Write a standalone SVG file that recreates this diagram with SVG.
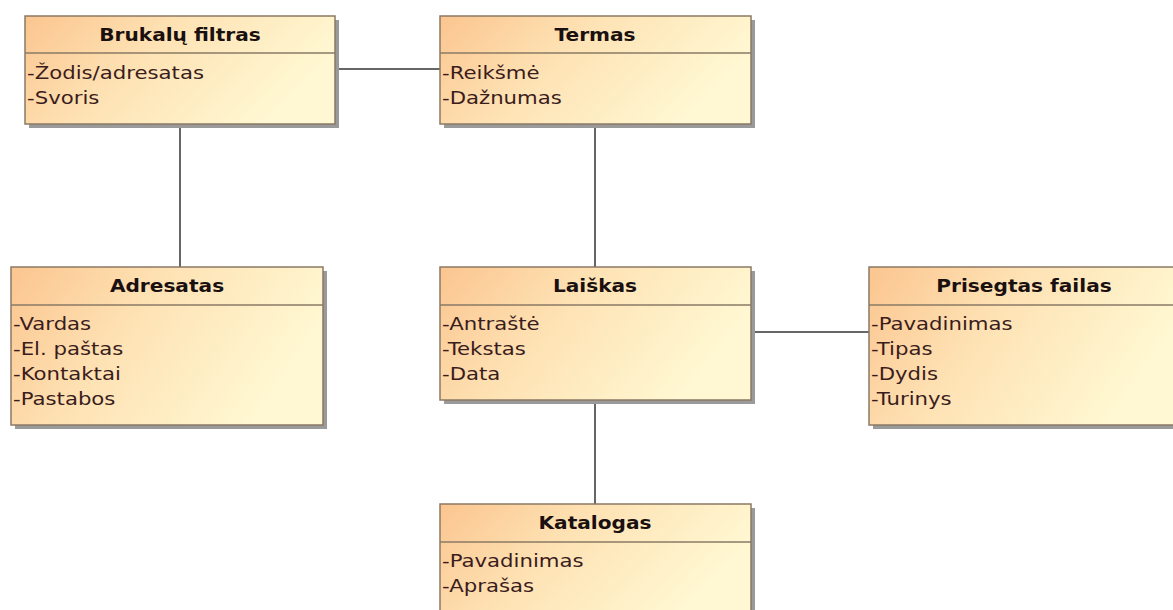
<svg xmlns="http://www.w3.org/2000/svg" width="1173" height="610" viewBox="0 0 1173 610">
  <defs>
    <linearGradient id="fill" x1="0" y1="0" x2="1" y2="0.35">
      <stop offset="0" stop-color="#fbc58f"/>
      <stop offset="0.45" stop-color="#fee2b4"/>
      <stop offset="1" stop-color="#fff8d2"/>
    </linearGradient>
  </defs>
  <style>
    .shadow { fill: #9a9a9a; }
    .box { fill: url(#fill); stroke: #8a7a66; stroke-width: 1.5; }
    .sep { stroke: #8a7a66; stroke-width: 1.5; }
    .title { font-family: "DejaVu Sans", sans-serif; font-weight: bold; font-size: 17.5px; fill: #1a1010; text-anchor: middle; }
    .attr { font-family: "DejaVu Sans", sans-serif; font-size: 18px; fill: #3a1c1c; }
    .conn line { stroke: #333333; stroke-width: 1.5; }
  </style>
  <rect width="1173" height="610" fill="#ffffff"/>

  <!-- associations -->
  <g id="connectors" class="conn">
    <line x1="335" y1="69" x2="440" y2="69"/>
    <line x1="180" y1="124" x2="180" y2="267"/>
    <line x1="595" y1="124" x2="595" y2="267"/>
    <line x1="751" y1="332" x2="869" y2="332"/>
    <line x1="595" y1="400" x2="595" y2="504"/>
  </g>

  <!-- class boxes; the text groups are widened horizontally -->
  <g id="brukalu-filtras">
    <rect class="shadow" x="29" y="20" width="310" height="108"/>
    <rect class="box" x="25" y="16" width="310" height="108"/>
    <line class="sep" x1="25" y1="53" x2="335" y2="53"/>
    <text class="title" transform="translate(180,41) scale(1.15,1)">Brukalų filtras</text>
    <g transform="translate(27,0) scale(1.18,1)">
      <text class="attr" y="79">-Žodis/adresatas</text>
      <text class="attr" y="104">-Svoris</text>
    </g>
  </g>

  <g id="termas">
    <rect class="shadow" x="444" y="20" width="311" height="108"/>
    <rect class="box" x="440" y="16" width="311" height="108"/>
    <line class="sep" x1="440" y1="53" x2="751" y2="53"/>
    <text class="title" transform="translate(595,41) scale(1.15,1)">Termas</text>
    <g transform="translate(442,0) scale(1.18,1)">
      <text class="attr" y="79">-Reikšmė</text>
      <text class="attr" y="104">-Dažnumas</text>
    </g>
  </g>

  <g id="adresatas">
    <rect class="shadow" x="15" y="271" width="312" height="158"/>
    <rect class="box" x="11" y="267" width="312" height="158"/>
    <line class="sep" x1="11" y1="305" x2="323" y2="305"/>
    <text class="title" transform="translate(167,292) scale(1.15,1)">Adresatas</text>
    <g transform="translate(13,0) scale(1.18,1)">
      <text class="attr" y="330">-Vardas</text>
      <text class="attr" y="355">-El. paštas</text>
      <text class="attr" y="380">-Kontaktai</text>
      <text class="attr" y="405">-Pastabos</text>
    </g>
  </g>

  <g id="laiskas">
    <rect class="shadow" x="444" y="271" width="311" height="133"/>
    <rect class="box" x="440" y="267" width="311" height="133"/>
    <line class="sep" x1="440" y1="305" x2="751" y2="305"/>
    <text class="title" transform="translate(595,292) scale(1.15,1)">Laiškas</text>
    <g transform="translate(442,0) scale(1.18,1)">
      <text class="attr" y="330">-Antraštė</text>
      <text class="attr" y="355">-Tekstas</text>
      <text class="attr" y="380">-Data</text>
    </g>
  </g>

  <g id="prisegtas-failas">
    <rect class="shadow" x="873" y="271" width="310" height="158"/>
    <rect class="box" x="869" y="267" width="310" height="158"/>
    <line class="sep" x1="869" y1="305" x2="1179" y2="305"/>
    <text class="title" transform="translate(1024,292) scale(1.15,1)">Prisegtas failas</text>
    <g transform="translate(871,0) scale(1.18,1)">
      <text class="attr" y="330">-Pavadinimas</text>
      <text class="attr" y="355">-Tipas</text>
      <text class="attr" y="380">-Dydis</text>
      <text class="attr" y="405">-Turinys</text>
    </g>
  </g>

  <g id="katalogas">
    <rect class="shadow" x="444" y="508" width="311" height="110"/>
    <rect class="box" x="440" y="504" width="311" height="110"/>
    <line class="sep" x1="440" y1="542" x2="751" y2="542"/>
    <text class="title" transform="translate(595,529) scale(1.15,1)">Katalogas</text>
    <g transform="translate(442,0) scale(1.18,1)">
      <text class="attr" y="567">-Pavadinimas</text>
      <text class="attr" y="592">-Aprašas</text>
    </g>
  </g>
</svg>
